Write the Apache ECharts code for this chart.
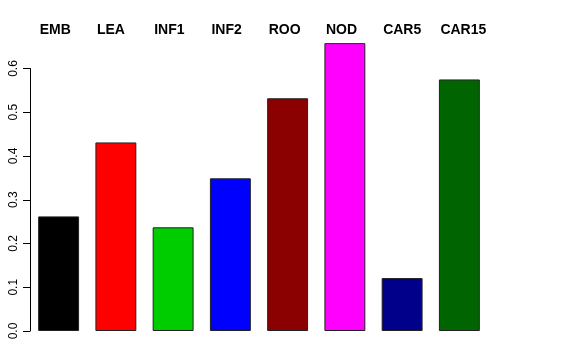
<!DOCTYPE html>
<html>
<head>
<meta charset="utf-8">
<script src="https://cdn.jsdelivr.net/npm/echarts@6/dist/echarts.min.js"></script>
<style>
html,body{margin:0;padding:0;background:#fff;}
#chart{width:576px;height:360px;}
</style>
</head>
<body>
<div id="chart"></div>
<script>
const categories = ['EMB', 'LEA', 'INF1', 'INF2', 'ROO', 'NOD', 'CAR5', 'CAR15'];
const values = [0.262, 0.431, 0.237, 0.349, 0.532, 0.658, 0.121, 0.575];
const barColors = ['#000000', '#FF0000', '#00CD00', '#0000FF', '#8B0000', '#FF00FF', '#00008B', '#006400'];
const yTicks = [0, 0.1, 0.2, 0.3, 0.4, 0.5, 0.6];

const chart = echarts.init(document.getElementById('chart'), null, {renderer: 'canvas'});
chart.setOption({
  animation: false,
  backgroundColor: '#ffffff',
  grid: {left: 30, right: 88, top: 68.5, bottom: 29, containLabel: false},
  xAxis: {
    type: 'category',
    position: 'top',
    data: categories,
    axisLine: {show: false},
    axisTick: {show: false},
    axisLabel: {
      interval: 0,
      hideOverlap: false,
      margin: 31,
      align: 'left',
      padding: [0, 0, 0, -19],
      fontFamily: 'Liberation Sans, Arial, sans-serif',
      fontWeight: 'bold',
      fontSize: 14,
      color: '#000'
    }
  },
  yAxis: {
    type: 'value',
    min: 0,
    max: 0.6,
    interval: 0.1,
    axisLine: {show: true, lineStyle: {color: '#000', width: 1}},
    axisTick: {show: true, length: 7, lineStyle: {color: '#000'}},
    splitLine: {show: false},
    axisLabel: {
      rotate: 90,
      margin: 10,
      fontFamily: 'Liberation Sans, Arial, sans-serif',
      fontSize: 12,
      color: '#000',
      formatter: v => v.toFixed(1)
    }
  },
  series: [{
    type: 'bar',
    clip: false,
    barCategoryGap: '28.5%',
    data: values.map((v, i) => ({value: v, itemStyle: {color: barColors[i]}})),
    itemStyle: {borderColor: '#222', borderWidth: 1}
  }]
});
</script>
</body>
</html>
